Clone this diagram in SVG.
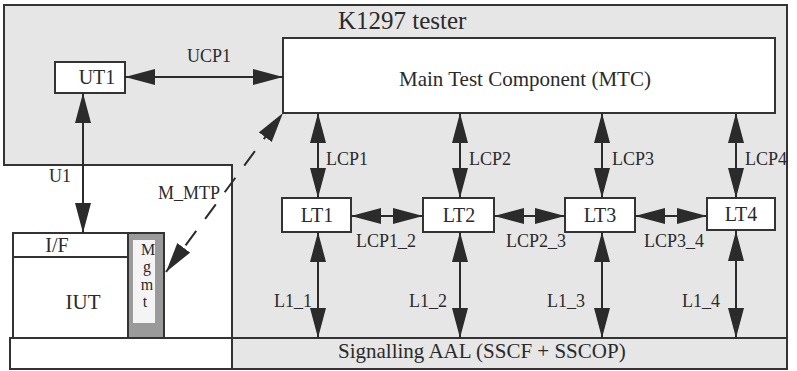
<svg xmlns="http://www.w3.org/2000/svg" width="797" height="371" viewBox="0 0 797 371">
<style>
.t{font-family:"Liberation Serif","Times New Roman",serif;fill:#2a2a2a}
.box{fill:#ffffff;stroke:#333;stroke-width:2}
.ln{stroke:#333;stroke-width:2;fill:none}
.con{stroke:#2b2b2b;stroke-width:2;fill:none;marker-start:url(#ah);marker-end:url(#ah)}
.dash{stroke-dasharray:18 15}
</style>
<defs>
<marker id="ah" viewBox="0 0 30 16" refX="30" refY="8" markerWidth="30" markerHeight="16" markerUnits="userSpaceOnUse" orient="auto-start-reverse">
<path d="M0,0 L30,8 L0,16 z" fill="#2b2b2b"/>
</marker>
</defs>
<rect width="797" height="371" fill="#ffffff"/>
<g id="tester">
<path d="M4,5 H787 V369 H232 V165 H4 Z" fill="#e6e6e6" stroke="#333" stroke-width="2"/>
<text class="t" x="338" y="29" font-size="25">K1297 tester</text>
</g>
<g id="aal">
<rect x="10" y="338" width="222" height="31" fill="#ffffff"/>
<rect x="10" y="338" width="777" height="31" class="ln"/>
<line x1="232" y1="338" x2="232" y2="369" class="ln"/>
<text class="t" x="338" y="358" font-size="21">Signalling AAL (SSCF + SSCOP)</text>
</g>
<g id="iut">
<rect x="13" y="233" width="151" height="105" class="box"/>
<line x1="13" y1="257" x2="128" y2="257" class="ln"/>
<text class="t" x="57" y="252" font-size="20" text-anchor="middle">I/F</text>
<text class="t" x="83" y="309" font-size="21" text-anchor="middle">IUT</text>
</g>
<g id="mgmt">
<rect x="128" y="233" width="36" height="105" fill="#9a9a9a" stroke="#333" stroke-width="2"/>
<rect x="133" y="240" width="22" height="83" fill="#f4f4f4"/>
<text class="t" font-size="16" text-anchor="middle"><tspan x="148" y="255">M</tspan><tspan x="147" y="272">g</tspan><tspan x="147" y="290">m</tspan><tspan x="145" y="307">t</tspan></text>
</g>
<g id="mtc">
<rect x="283" y="38" width="492" height="75" class="box"/>
<text class="t" x="525" y="86" font-size="21" text-anchor="middle">Main Test Component (MTC)</text>
</g>
<g id="ut1">
<rect x="55" y="62" width="70" height="31" class="box"/>
<text class="t" x="97" y="84" font-size="20" text-anchor="middle">UT1</text>
</g>
<g id="lt1">
<rect x="282" y="198" width="69" height="34" class="box"/>
<text class="t" x="317" y="222" font-size="20" text-anchor="middle">LT1</text>
</g>
<g id="lt2">
<rect x="423" y="198" width="71" height="34" class="box"/>
<text class="t" x="459" y="222" font-size="20" text-anchor="middle">LT2</text>
</g>
<g id="lt3">
<rect x="565" y="198" width="70" height="34" class="box"/>
<text class="t" x="600" y="222" font-size="20" text-anchor="middle">LT3</text>
</g>
<g id="lt4">
<rect x="707" y="198" width="68" height="32" class="box"/>
<text class="t" x="741" y="221" font-size="20" text-anchor="middle">LT4</text>
</g>
<g id="connectors">
<line x1="125" y1="77" x2="283" y2="77" class="con"/>
<line x1="83" y1="93" x2="83" y2="233" class="con"/>
<line x1="166" y1="272" x2="283" y2="113" class="con dash"/>
<line x1="318" y1="113" x2="318" y2="198" class="con"/>
<line x1="460" y1="113" x2="460" y2="198" class="con"/>
<line x1="602" y1="113" x2="602" y2="198" class="con"/>
<line x1="736" y1="113" x2="736" y2="198" class="con"/>
<line x1="351" y1="216" x2="423" y2="216" class="con"/>
<line x1="494" y1="216" x2="565" y2="216" class="con"/>
<line x1="635" y1="216" x2="707" y2="216" class="con"/>
<line x1="318" y1="232" x2="318" y2="338" class="con"/>
<line x1="460" y1="232" x2="460" y2="338" class="con"/>
<line x1="602" y1="232" x2="602" y2="338" class="con"/>
<line x1="736" y1="231" x2="736" y2="338" class="con"/>
<g class="t" font-size="18">
<text x="209" y="62" text-anchor="middle">UCP1</text>
<text x="60" y="182" text-anchor="middle">U1</text>
<text x="220" y="199" text-anchor="end">M_MTP</text>
<text x="326" y="165">LCP1</text>
<text x="469" y="165">LCP2</text>
<text x="612" y="165">LCP3</text>
<text x="745" y="165">LCP4</text>
<text x="386" y="247" text-anchor="middle">LCP1_2</text>
<text x="536" y="247" text-anchor="middle">LCP2_3</text>
<text x="674" y="247" text-anchor="middle">LCP3_4</text>
<text x="312" y="307" text-anchor="end">L1_1</text>
<text x="447" y="307" text-anchor="end">L1_2</text>
<text x="585" y="307" text-anchor="end">L1_3</text>
<text x="720" y="307" text-anchor="end">L1_4</text>
</g>
</g>
</svg>
